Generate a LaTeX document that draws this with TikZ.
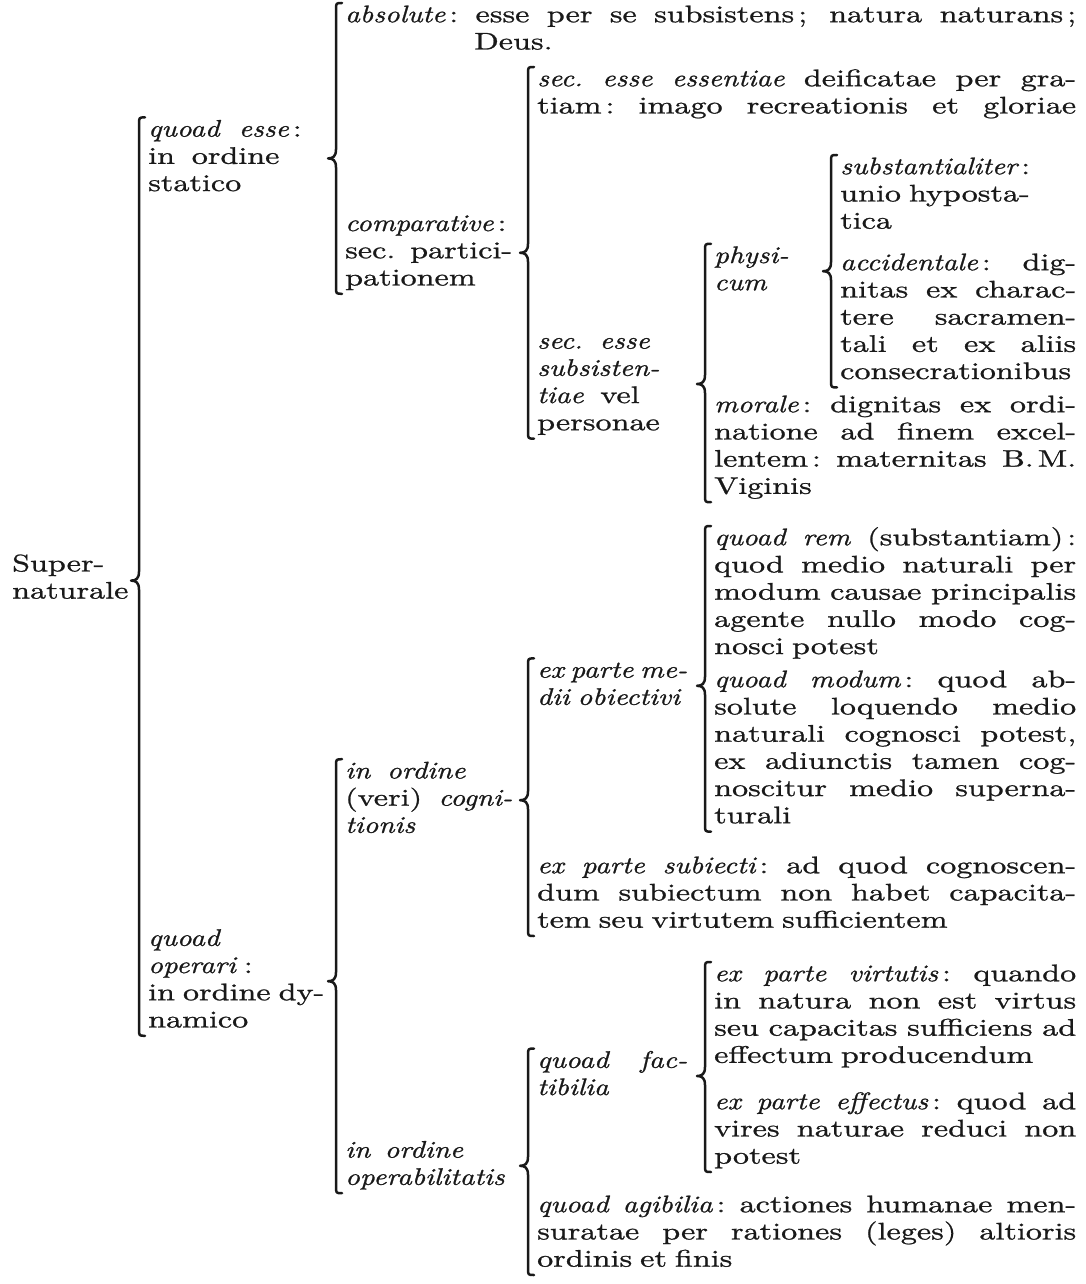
\documentclass[tikz,border=0pt]{standalone}
\usepackage{fontspec}
\setmainfont{lmroman10}[Extension=.otf, UprightFont=*-regular, ItalicFont=*-italic,
  BoldFont=*-bold, BoldItalicFont=*-bolditalic, FakeBold=1.0,
  UprightFeatures={FakeStretch=1.34}]
\newfontfamily\itshp{lmroman10-italic.otf}[FakeStretch=1.2, FakeBold=1.0]
\usetikzlibrary{calc}
\setlength{\parindent}{0pt}
\hyphenpenalty=10000

% italic words
\newcommand{\li}[1]{{\itshp #1}}
% one justified line of a block
\newcommand{\jl}[1]{\leavevmode\hbox to\linewidth{\spaceskip=.33em plus 2em minus .1em\xspaceskip=\spaceskip #1}}
% brace: label, first child, last child
\newcommand{\brc}[3]{%
  \draw[brc] let \p1=(#2.north west), \p2=(#3.south west), \p3=(#1.west) in
    (\x1-3pt,\y1) .. controls (\x1-9pt,\y1) .. (\x1-9pt,\y1-7pt)
    -- (\x1-9pt,\y3+9pt) .. controls (\x1-9pt,\y3+2pt) and (\x1-12pt,\y3) .. (\x1-17pt,\y3)
    .. controls (\x1-12pt,\y3) and (\x1-9pt,\y3-2pt) .. (\x1-9pt,\y3-9pt)
    -- (\x1-9pt,\y2+7pt) .. controls (\x1-9pt,\y2) .. (\x1-3pt,\y2);}

\begin{document}
\begin{tikzpicture}[x=1pt, y=-1pt, black!90, font=\fontsize{24}{27.2}\selectfont,
  txt/.style={inner sep=0pt, anchor=north west, align=left,
    execute at begin node=\strut, execute at end node=\strut},
  lbl/.style={txt, anchor=west},
  brc/.style={line width=2.5pt, line cap=round, line join=round}]
\useasboundingbox (0,0) rectangle (1085,1284);

% leaves
\node[txt, text width=731pt] (abs) at (345,3)
  {\jl{\li{absolute}\,: esse per se subsistens\,; natura naturans\,;}\\\phantom{\li{absolute}\,: \,}Deus.};
\node[txt, text width=539pt] (ess) at (537,67)
  {\jl{\li{sec.\ esse essentiae} deificatae per gra-}\\\jl{tiam\,: imago recreationis et gloriae}};
\node[txt, text width=236pt] (sst) at (840,155)
  {\li{substantialiter}\,:\\unio hyposta-\\tica};
\node[txt, text width=236pt] (acc) at (840,251)
  {\jl{\li{accidentale}\,: dig-}\\\jl{nitas ex charac-}\\\jl{tere sacramen-}\\\jl{tali et ex aliis}\\consecrationibus};
\node[txt, text width=362pt] (mor) at (714,393)
  {\jl{\li{morale}\,: dignitas ex ordi-}\\\jl{natione ad finem excel-}\\\jl{lentem\,: maternitas B.\,M.}\\Viginis};
\node[txt, text width=362pt] (rem) at (714,526)
  {\jl{\li{quoad rem} (substantiam)\,:}\\\jl{quod medio naturali per}\\\jl{modum causae principalis}\\\jl{agente nullo modo cog-}\\nosci potest};
\node[txt, text width=362pt] (mod) at (714,668)
  {\jl{\li{quoad modum}\,: quod ab-}\\\jl{solute loquendo medio}\\\jl{naturali cognosci potest,}\\\jl{ex adiunctis tamen cog-}\\\jl{noscitur medio superna-}\\turali};
\node[txt, text width=539pt] (sub) at (537,854)
  {\jl{\li{ex parte subiecti}\,: ad quod cognoscen-}\\\jl{dum subiectum non habet capacita-}\\tem seu virtutem sufficientem};
\node[txt, text width=362pt] (vir) at (714,962)
  {\jl{\li{ex parte virtutis}\,: quando}\\\jl{in natura non est virtus}\\\jl{seu capacitas sufficiens ad}\\effectum producendum};
\node[txt, text width=362pt] (eff) at (714,1090)
  {\jl{\li{ex parte effectus}\,: quod ad}\\\jl{vires naturae reduci non}\\potest};
\node[txt, text width=539pt] (agi) at (537,1193)
  {\jl{\li{quoad agibilia}\,: actiones humanae men-}\\\jl{suratae per rationes (leges) altioris}\\ordinis et finis};

% labels, each set against its brace
\path let \p1=(sst.north), \p2=(acc.south) in
  node[lbl, text width=80pt] (phys) at (714pt,{0.5*(\y1+\y2)}) {\li{physi-}\\\li{cum}};
\path let \p1=(phys.north), \p2=(mor.south) in
  node[lbl, text width=150pt, yshift=-11pt] (subs) at (537pt,{0.5*(\y1+\y2)})
  {\li{sec.}\hspace{.7em}\li{esse}\\\li{subsisten-}\\\li{tiae}\hspace{.7em}vel\\personae};
\path let \p1=(ess.north), \p2=(subs.south) in
  node[lbl, text width=167pt] (comp) at (345pt,{0.5*(\y1+\y2)})
  {\li{comparative}\,:\\\jl{sec.\ partici-}\\pationem};
\path let \p1=(abs.north), \p2=(comp.south) in
  node[lbl, text width=172pt, yshift=-10pt] (qes) at (148pt,{0.5*(\y1+\y2)})
  {\li{quoad}\hspace{.8em}\li{esse}\,:\\in\hspace{.7em}ordine\\statico};
\path let \p1=(rem.north), \p2=(mod.south) in
  node[lbl, text width=150pt, yshift=-7pt] (med) at (537pt,{0.5*(\y1+\y2)})
  {\jl{\li{ex parte me-}}\\\li{dii obiectivi}};
\path let \p1=(med.north), \p2=(sub.south) in
  node[lbl, text width=167pt, yshift=-3pt] (cog) at (345pt,{0.5*(\y1+\y2)})
  {\li{in}\hspace{.7em}\li{ordine}\\\jl{(veri) \li{cogni-}}\\\li{tionis}};
\path let \p1=(vir.north), \p2=(eff.south) in
  node[lbl, text width=150pt, yshift=-9pt] (fac) at (537pt,{0.5*(\y1+\y2)})
  {\jl{\li{quoad fac-}}\\\li{tibilia}};
\path let \p1=(fac.north), \p2=(agi.south) in
  node[lbl, text width=167pt, yshift=-4pt] (opb) at (345pt,{0.5*(\y1+\y2)})
  {\li{in}\hspace{.6em}\li{ordine}\\\li{operabilitatis}};
\path let \p1=(cog.north), \p2=(opb.south) in
  node[lbl, text width=185pt, yshift=-5pt] (dyn) at (148pt,{0.5*(\y1+\y2)})
  {\li{quoad}\\\li{operari}\,\,:\\in ordine dy-\\namico};
\path let \p1=(qes.north), \p2=(dyn.south) in
  node[lbl, yshift=-4pt] (root) at (12pt,{0.5*(\y1+\y2)}) {Super-\\naturale};

% braces
\brc{root}{qes}{dyn}
\brc{qes}{abs}{comp}
\brc{comp}{ess}{subs}
\brc{subs}{phys}{mor}
\brc{phys}{sst}{acc}
\brc{dyn}{cog}{opb}
\brc{cog}{med}{sub}
\brc{med}{rem}{mod}
\brc{opb}{fac}{agi}
\brc{fac}{vir}{eff}
\end{tikzpicture}
\end{document}
